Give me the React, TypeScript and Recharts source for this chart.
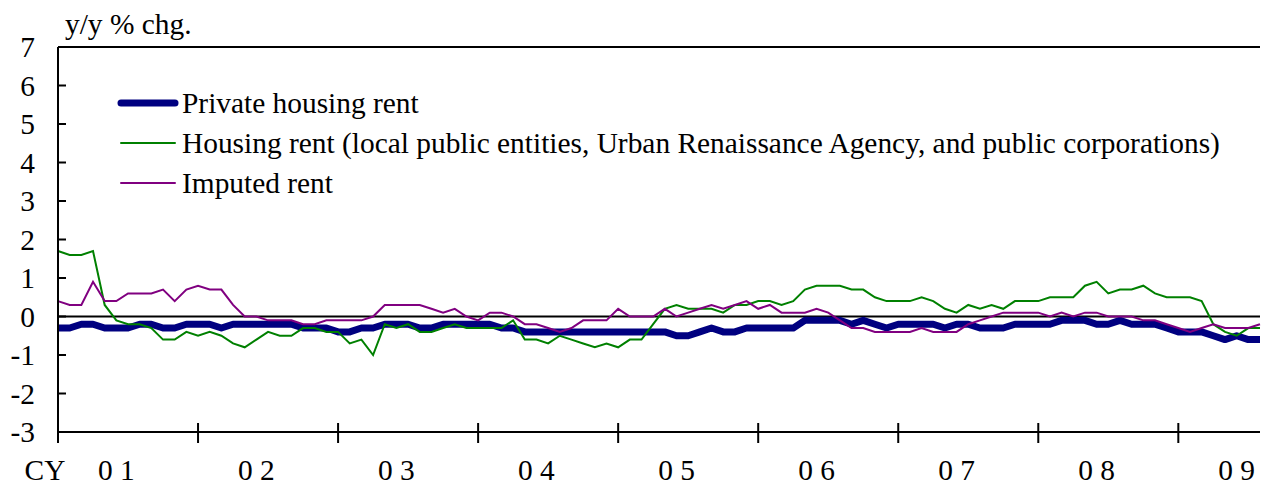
import React from 'react';
import { LineChart, Line, XAxis, YAxis, ReferenceLine } from 'recharts';

// monthly, Jan 2001 .. Aug 2009
const privateRent = [
  -0.3, -0.3, -0.2, -0.2, -0.3, -0.3, -0.3, -0.2, -0.2, -0.3, -0.3, -0.2,
  -0.2, -0.2, -0.3, -0.2, -0.2, -0.2, -0.2, -0.2, -0.2, -0.3, -0.3, -0.3,
  -0.4, -0.4, -0.3, -0.3, -0.2, -0.2, -0.2, -0.3, -0.3, -0.2, -0.2, -0.2,
  -0.2, -0.2, -0.3, -0.3, -0.4, -0.4, -0.4, -0.4, -0.4, -0.4, -0.4, -0.4,
  -0.4, -0.4, -0.4, -0.4, -0.4, -0.5, -0.5, -0.4, -0.3, -0.4, -0.4, -0.3,
  -0.3, -0.3, -0.3, -0.3, -0.1, -0.1, -0.1, -0.1, -0.2, -0.1, -0.2, -0.3,
  -0.2, -0.2, -0.2, -0.2, -0.3, -0.2, -0.2, -0.3, -0.3, -0.3, -0.2, -0.2,
  -0.2, -0.2, -0.1, -0.1, -0.1, -0.2, -0.2, -0.1, -0.2, -0.2, -0.2, -0.3,
  -0.4, -0.4, -0.4, -0.5, -0.6, -0.5, -0.6, -0.6,
];

const publicRent = [
  1.7, 1.6, 1.6, 1.7, 0.3, -0.1, -0.2, -0.2, -0.3, -0.6, -0.6, -0.4,
  -0.5, -0.4, -0.5, -0.7, -0.8, -0.6, -0.4, -0.5, -0.5, -0.3, -0.3, -0.4,
  -0.4, -0.7, -0.6, -1.0, -0.2, -0.3, -0.2, -0.4, -0.4, -0.3, -0.2, -0.3,
  -0.3, -0.3, -0.3, -0.1, -0.6, -0.6, -0.7, -0.5, -0.6, -0.7, -0.8, -0.7,
  -0.8, -0.6, -0.6, -0.2, 0.2, 0.3, 0.2, 0.2, 0.2, 0.1, 0.3, 0.3,
  0.4, 0.4, 0.3, 0.4, 0.7, 0.8, 0.8, 0.8, 0.7, 0.7, 0.5, 0.4,
  0.4, 0.4, 0.5, 0.4, 0.2, 0.1, 0.3, 0.2, 0.3, 0.2, 0.4, 0.4,
  0.4, 0.5, 0.5, 0.5, 0.8, 0.9, 0.6, 0.7, 0.7, 0.8, 0.6, 0.5,
  0.5, 0.5, 0.4, -0.2, -0.4, -0.5, -0.3, -0.3,
];

const imputedRent = [
  0.4, 0.3, 0.3, 0.9, 0.4, 0.4, 0.6, 0.6, 0.6, 0.7, 0.4, 0.7,
  0.8, 0.7, 0.7, 0.3, 0.0, 0.0, -0.1, -0.1, -0.1, -0.2, -0.2, -0.1,
  -0.1, -0.1, -0.1, 0.0, 0.3, 0.3, 0.3, 0.3, 0.2, 0.1, 0.2, 0.0,
  -0.1, 0.1, 0.1, 0.0, -0.2, -0.2, -0.3, -0.4, -0.3, -0.1, -0.1, -0.1,
  0.2, 0.0, 0.0, 0.0, 0.2, 0.0, 0.1, 0.2, 0.3, 0.2, 0.3, 0.4,
  0.2, 0.3, 0.1, 0.1, 0.1, 0.2, 0.1, -0.1, -0.3, -0.3, -0.4, -0.4,
  -0.4, -0.4, -0.3, -0.4, -0.4, -0.4, -0.2, -0.1, 0.0, 0.1, 0.1, 0.1,
  0.1, 0.0, 0.1, 0.0, 0.1, 0.1, 0.0, 0.0, 0.0, -0.1, -0.1, -0.2,
  -0.3, -0.4, -0.3, -0.2, -0.3, -0.3, -0.3, -0.2,
];

const yearLabels = ['0 1', '0 2', '0 3', '0 4', '0 5', '0 6', '0 7', '0 8', '0 9'];
const yTicks = [-3, -2, -1, 0, 1, 2, 3, 4, 5, 6, 7];

const NAVY = '#000080';
const GREEN = '#008000';
const PURPLE = '#800080';
const FONT = '"Liberation Serif", "Times New Roman", serif';
const FS = 29.4;

const data = privateRent.map((v, i) => ({
  i,
  priv: v,
  pub: publicRent[i],
  imp: imputedRent[i],
}));

// year boundaries get a tick mark, mid-year (June) gets the label
const xTicks: number[] = [];
yearLabels.forEach((_, k) => {
  xTicks.push(k * 12);
  xTicks.push(k * 12 + 5);
});

const renderXTick = (props: any) => {
  const { x, y, payload } = props;
  const v = payload.value;
  if (v % 12 === 0) {
    return (
      <g>
        <line x1={x} x2={x} y1={y - 9} y2={y + 11} stroke="#000" strokeWidth={2} />
        {v === 0 && (
          <text x={x - 13} y={y + 48} textAnchor="middle" fontSize={FS} fontFamily={FONT} fill="#000">
            CY
          </text>
        )}
      </g>
    );
  }
  return (
    <text x={x} y={y + 48} textAnchor="middle" fontSize={FS} fontFamily={FONT} fill="#000">
      {yearLabels[(v - 5) / 12]}
    </text>
  );
};

const renderYTick = (props: any) => {
  const { x, y, payload } = props;
  return (
    <g>
      <line x1={x} x2={x + 8} y1={y} y2={y} stroke="#000" strokeWidth={2} />
      <text x={x - 23} y={y} dy={10} textAnchor="end" fontSize={FS} fontFamily={FONT} fill="#000">
        {payload.value}
      </text>
    </g>
  );
};

const legendItems = [
  { label: 'Private housing rent', color: NAVY, width: 7 },
  {
    label: 'Housing rent (local public entities, Urban Renaissance Agency, and public corporations)',
    color: GREEN,
    width: 2,
  },
  { label: 'Imputed rent', color: PURPLE, width: 2 },
];

function ChartLegend() {
  return (
    <div
      style={{
        position: 'absolute',
        left: 116,
        top: 83,
        fontFamily: FONT,
        fontSize: FS,
        color: '#000',
      }}
    >
      {legendItems.map((it) => (
        <div key={it.label} style={{ display: 'flex', alignItems: 'center', height: 40, whiteSpace: 'nowrap' }}>
          <svg width={66} height={40} style={{ flex: 'none' }}>
            <line x1={5} x2={59} y1={20} y2={20} stroke={it.color} strokeWidth={it.width} strokeLinecap="round" />
          </svg>
          <span>{it.label}</span>
        </div>
      ))}
    </div>
  );
}

export default function App() {
  return (
    <div style={{ position: 'absolute', left: 0, top: 0, width: 1262, height: 488, background: '#fff' }}>
      <div
        style={{
          position: 'absolute',
          left: 65,
          top: 10,
          fontFamily: FONT,
          fontSize: FS,
          lineHeight: '28px',
          whiteSpace: 'nowrap',
        }}
      >
        y/y % chg.
      </div>
      <LineChart
        width={1262}
        height={488}
        data={data}
        margin={{ top: 47, right: 2, left: 0, bottom: 0 }}
        style={{ fontFamily: FONT }}
      >
        <XAxis
          dataKey="i"
          type="number"
          domain={[0, 103]}
          ticks={xTicks}
          interval={0}
          height={56}
          tickLine={false}
          tickSize={0}
          tickMargin={0}
          axisLine={{ stroke: '#000', strokeWidth: 2 }}
          tick={renderXTick}
        />
        <YAxis
          type="number"
          domain={[-3, 7]}
          ticks={yTicks}
          interval={0}
          width={58}
          tickLine={false}
          tickSize={0}
          tickMargin={0}
          axisLine={{ stroke: '#000', strokeWidth: 2 }}
          tick={renderYTick}
        />
        <ReferenceLine y={7} stroke="#000" strokeWidth={2} />
        <ReferenceLine y={0} stroke="#000" strokeWidth={2} />
        <Line
          type="linear"
          dataKey="priv"
          stroke={NAVY}
          strokeWidth={7}
          dot={false}
          activeDot={false}
          strokeLinejoin="round"
          isAnimationActive={false}
        />
        <Line
          type="linear"
          dataKey="pub"
          stroke={GREEN}
          strokeWidth={2}
          dot={false}
          activeDot={false}
          isAnimationActive={false}
        />
        <Line
          type="linear"
          dataKey="imp"
          stroke={PURPLE}
          strokeWidth={2}
          dot={false}
          activeDot={false}
          isAnimationActive={false}
        />
      </LineChart>
      <ChartLegend />
    </div>
  );
}
